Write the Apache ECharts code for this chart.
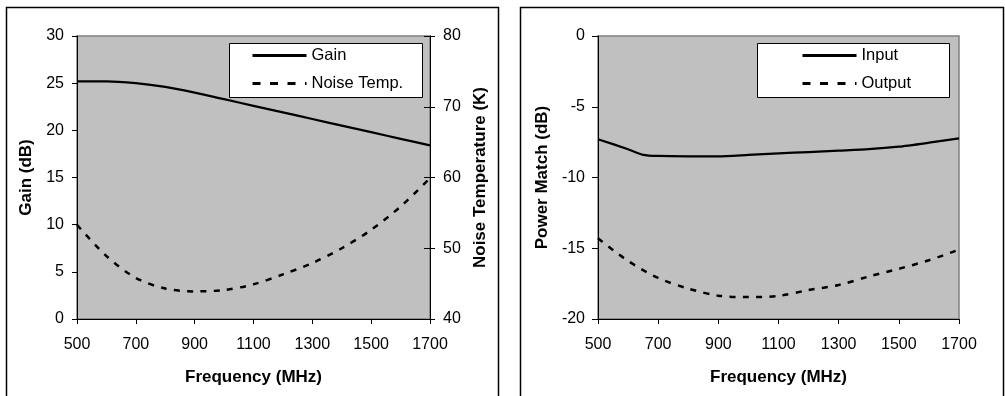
<!DOCTYPE html>
<html>
<head>
<meta charset="utf-8">
<script src="https://cdn.jsdelivr.net/npm/echarts@6/dist/echarts.min.js"></script>
<style>
html,body{margin:0;padding:0;background:#fff;}
#chart{width:1005px;height:396px;}
</style>
</head>
<body>
<div id="chart"></div>
<script>
// ---- data ----
const xTicks = [500, 700, 900, 1100, 1300, 1500, 1700];
const gainFreq = [500, 600, 700, 800, 900, 1000, 1100, 1200, 1300, 1400, 1500, 1600, 1700];
const gainDb   = [25.2, 25.2, 25.0, 24.6, 24.0, 23.3, 22.6, 21.9, 21.2, 20.5, 19.8, 19.1, 18.4];
const noiseFreq = [500, 600, 700, 800, 900, 1000, 1100, 1200, 1300, 1400, 1500, 1600, 1700];
const noiseK    = [53.3, 48.9, 45.8, 44.3, 43.9, 44.1, 44.9, 46.3, 47.9, 50.0, 52.6, 55.9, 59.9];
const inputFreq = [500, 600, 650, 700, 800, 900, 1000, 1100, 1200, 1300, 1400, 1500, 1600, 1700];
const inputDb   = [-7.3, -8.0, -8.4, -8.48, -8.5, -8.5, -8.4, -8.3, -8.2, -8.1, -8.0, -7.82, -7.54, -7.24];
const outputFreq = [500, 600, 700, 800, 900, 1000, 1100, 1200, 1300, 1400, 1500, 1600, 1700];
const outputDb   = [-14.3, -15.9, -17.1, -17.85, -18.35, -18.45, -18.37, -17.95, -17.6, -17.0, -16.45, -15.85, -15.1];

const pairs = (xs, ys) => xs.map((x, i) => [x, ys[i]]);

const FONT = 'Liberation Sans, Arial, sans-serif';
const tickFont = {color: '#000', fontSize: 16, fontFamily: FONT, formatter: v => String(v)};
const nameFont = {color: '#000', fontSize: 17, fontWeight: 'bold', fontFamily: FONT};
const DASH = [6, 7.3];
const LEGEND_DASH = [8, 9.5];

function xAxis(grid) {
  return {
    type: 'value', gridIndex: grid, min: 500, max: 1700, interval: 200,
    name: 'Frequency (MHz)', nameLocation: 'middle', nameGap: 50, nameTextStyle: nameFont,
    axisLine: {show: true, onZero: false, lineStyle: {color: '#000', width: 1}},
    axisTick: {show: true, length: 5, lineStyle: {color: '#000'}},
    axisLabel: Object.assign({margin: 18}, tickFont),
    splitLine: {show: false}
  };
}

const legendCommon = {
  orient: 'vertical', top: 47, padding: 0,
  itemWidth: 54, itemHeight: 16, itemGap: 11,
  itemStyle: {opacity: 0},
  lineStyle: {width: 3},
  textStyle: {color: '#000', fontSize: 16.5, fontFamily: FONT}, z: 10
};

const chart = echarts.init(document.getElementById('chart'));
chart.setOption({
  animation: false,
  backgroundColor: '#fff',
  grid: [
    {left: 77, top: 36, width: 353, height: 283, show: true, backgroundColor: '#C0C0C0', borderColor: '#808080', borderWidth: 1.5, outerBoundsMode: 'none'},
    {left: 598, top: 36, width: 361, height: 283, show: true, backgroundColor: '#C0C0C0', borderColor: '#808080', borderWidth: 1.5, outerBoundsMode: 'none'}
  ],
  xAxis: [xAxis(0), xAxis(1)],
  yAxis: [
    {
      type: 'value', gridIndex: 0, position: 'left', min: 0, max: 30, interval: 5,
      name: 'Gain (dB)', nameLocation: 'middle', nameGap: 42, nameTextStyle: nameFont,
      axisLine: {show: true, lineStyle: {color: '#000'}},
      axisTick: {show: true, length: 5, lineStyle: {color: '#000'}},
      axisLabel: Object.assign({margin: 13}, tickFont),
      splitLine: {show: false}
    },
    {
      type: 'value', gridIndex: 0, position: 'right', min: 40, max: 80, interval: 10,
      name: 'Noise Temperature (K)', nameLocation: 'middle', nameGap: 42, nameRotate: 90, nameTextStyle: nameFont,
      axisLine: {show: true, lineStyle: {color: '#000'}},
      axisTick: {show: true, length: 5, lineStyle: {color: '#000'}},
      axisLabel: Object.assign({margin: 13}, tickFont),
      splitLine: {show: false}
    },
    {
      type: 'value', gridIndex: 0, position: 'right', min: 40, max: 80, interval: 10,
      axisLine: {show: false},
      axisTick: {show: true, inside: true, length: 6, lineStyle: {color: '#000'}},
      axisLabel: {show: false},
      splitLine: {show: false}
    },
    {
      type: 'value', gridIndex: 1, position: 'left', min: -20, max: 0, interval: 5,
      name: 'Power Match (dB)', nameLocation: 'middle', nameGap: 47, nameTextStyle: nameFont,
      axisLine: {show: true, lineStyle: {color: '#000'}},
      axisTick: {show: true, length: 6, lineStyle: {color: '#000'}},
      axisLabel: Object.assign({margin: 13}, tickFont),
      splitLine: {show: false}
    }
  ],
  legend: [
    Object.assign({data: [
      {name: 'Gain', lineStyle: {type: 'solid', width: 3}},
      {name: 'Noise Temp.', lineStyle: {type: LEGEND_DASH, width: 3}}
    ], left: 251}, legendCommon),
    Object.assign({data: [
      {name: 'Input', lineStyle: {type: 'solid', width: 3}},
      {name: 'Output', lineStyle: {type: LEGEND_DASH, width: 3}}
    ], left: 801}, legendCommon)
  ],
  graphic: [
    {type: 'rect', shape: {x: 6.5, y: 7.5, width: 492, height: 400}, style: {fill: 'none', stroke: '#000', lineWidth: 1.5}, z: 0, silent: true},
    {type: 'rect', shape: {x: 520.5, y: 7.5, width: 483, height: 400}, style: {fill: 'none', stroke: '#000', lineWidth: 1.5}, z: 0, silent: true},
    {type: 'rect', shape: {x: 229.5, y: 43.5, width: 193, height: 54}, style: {fill: '#fff', stroke: '#000', lineWidth: 1}, z: 5, silent: true},
    {type: 'rect', shape: {x: 757.5, y: 43.5, width: 192, height: 54}, style: {fill: '#fff', stroke: '#000', lineWidth: 1}, z: 5, silent: true}
  ],
  series: [
    {name: 'Gain', type: 'line', xAxisIndex: 0, yAxisIndex: 0, data: pairs(gainFreq, gainDb), smooth: 0.3,
      symbol: 'none', lineStyle: {color: '#000', width: 2.25, type: 'solid'}, itemStyle: {color: '#000'}},
    {name: 'Noise Temp.', type: 'line', xAxisIndex: 0, yAxisIndex: 1, data: pairs(noiseFreq, noiseK), smooth: 0.3,
      symbol: 'none', lineStyle: {color: '#000', width: 2.5, type: DASH}, itemStyle: {color: '#000'}},
    {name: 'Input', type: 'line', xAxisIndex: 1, yAxisIndex: 3, data: pairs(inputFreq, inputDb), smooth: 0.2,
      symbol: 'none', lineStyle: {color: '#000', width: 2.25, type: 'solid'}, itemStyle: {color: '#000'}},
    {name: 'Output', type: 'line', xAxisIndex: 1, yAxisIndex: 3, data: pairs(outputFreq, outputDb), smooth: 0.3,
      symbol: 'none', lineStyle: {color: '#000', width: 2.5, type: DASH}, itemStyle: {color: '#000'}}
  ]
});
</script>
</body>
</html>
